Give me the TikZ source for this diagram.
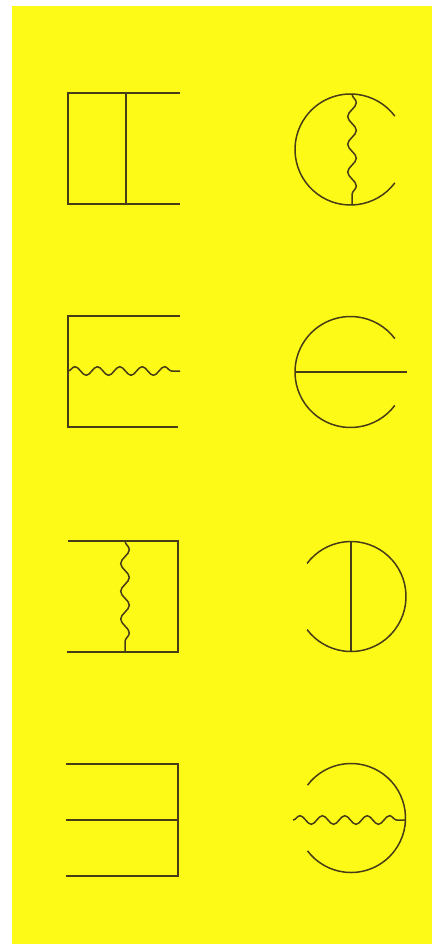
\documentclass[tikz,border=0pt]{standalone}
\usepackage{xcolor}
\usepackage{tikz}
\usetikzlibrary{decorations.pathmorphing}
\definecolor{paperyellow}{RGB}{254, 250, 24}
\definecolor{inkbrown}{RGB}{70, 60, 22}

\begin{document}
\begin{tikzpicture}[x=1pt, y=-1pt,
    ink/.style={draw=inkbrown, line width=1.5pt},
    wavy/.style={ink, decorate, decoration={snake, amplitude=4.3pt, segment length=#1}},
    wavy/.default=22.4pt
]
    % paper
    \fill[white] (0,0) rectangle (432,944);
    \fill[paperyellow] (12,6) rectangle (432,944);
    \useasboundingbox (0,0) rectangle (432,944);

    % left column
    \draw[ink] (180,93) -- (68,93) -- (68,204) -- (180,204);
    \draw[ink] (126,93) -- (126,204);

    \draw[ink] (180,316) -- (68,316) -- (68,427) -- (178,427);
    \draw[wavy] (68,371) -- (180,371);

    \draw[ink] (68,541) -- (178,541) -- (178,652) -- (67,652);
    \draw[wavy=27.75pt] (125,541) -- (125,652);

    \draw[ink] (66,764) -- (178,764) -- (178,876) -- (66,876);
    \draw[ink] (66,820) -- (178,820);

    % right column
    \coordinate (c1) at (350.5,149.5);
    \coordinate (c2) at (350.5,372);
    \coordinate (c3) at (351,596.5);
    \coordinate (c4) at (351,818);

    \draw[ink] (c1) ++(37:55.5) arc[start angle=37, end angle=323, radius=55.5];
    \draw[wavy=27.75pt] (352,94) -- (352,205);

    \draw[ink] (c2) ++(37:55.5) arc[start angle=37, end angle=323, radius=55.5];
    \draw[ink] (295,372) -- (407,372);

    \draw[ink] (c3) ++(-143:55) arc[start angle=-143, end angle=143, radius=55];
    \draw[ink] (351,541.5) -- (351,651.5);

    \draw[ink] (c4) ++(-143:54.5) arc[start angle=-143, end angle=143, radius=54.5];
    \draw[wavy] (293,820) -- (405,820);
\end{tikzpicture}
\end{document}
